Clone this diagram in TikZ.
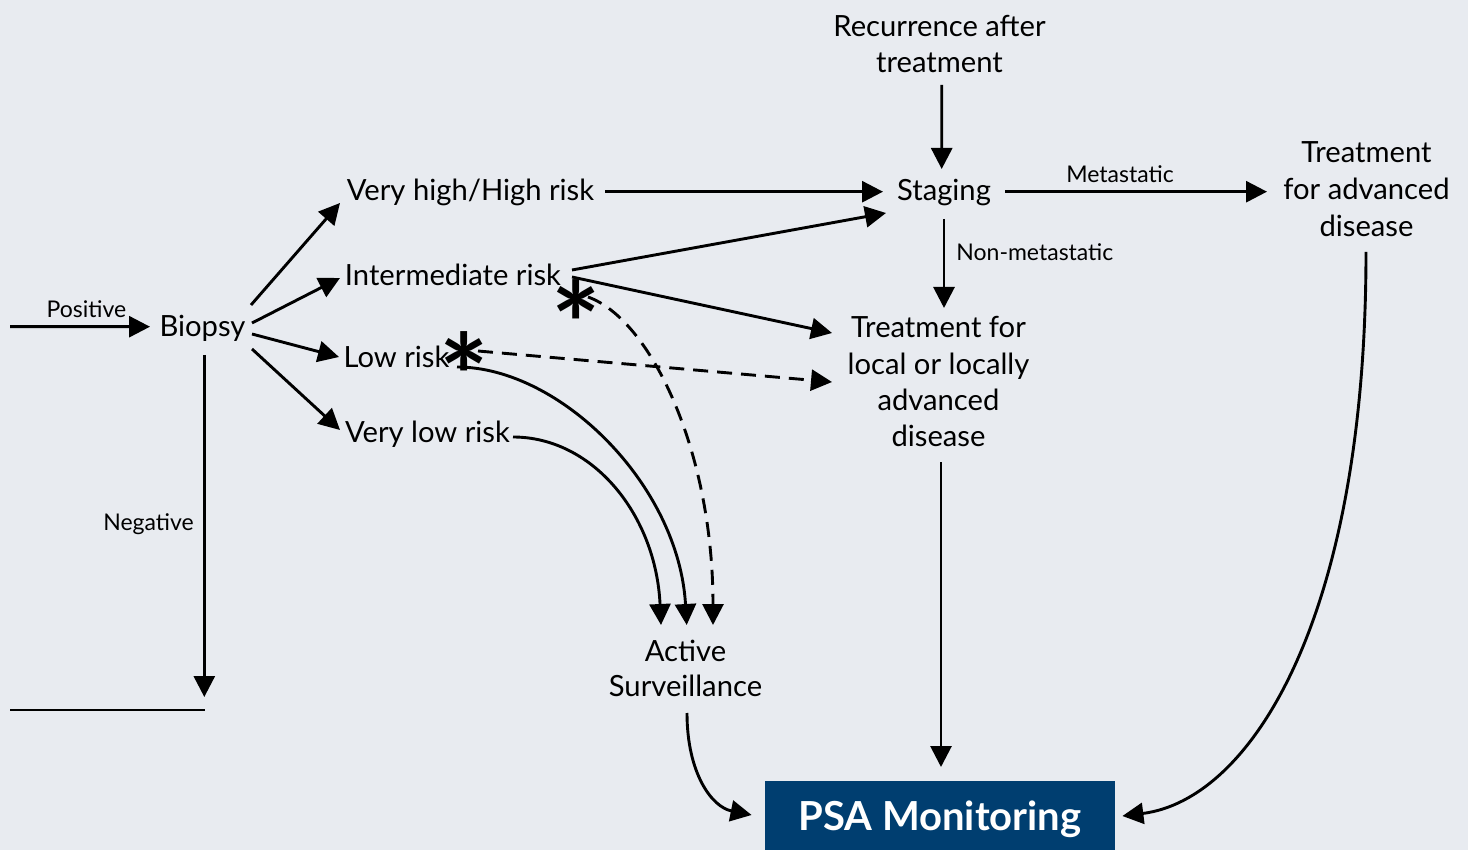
\documentclass[tikz,border=0pt]{standalone}
\usepackage{fontspec}
\setmainfont{Lato}
\usetikzlibrary{arrows.meta,calc}
\definecolor{bg}{HTML}{E8EBF0}
\definecolor{psablue}{HTML}{003E70}
\newcommand\mlstack[1]{\vtop{\halign{\hfil##\hfil\cr#1\crcr}}}
\newcommand\bigast{\makebox[13pt]{\raisebox{-34pt}[6pt][6pt]{*}}}
\tikzset{
  lbl/.style={font=\fontsize{14.6}{18}\selectfont, inner sep=0pt, anchor=base, text=black},
  sml/.style={font=\fontsize{11.5}{14}\selectfont, inner sep=0pt, anchor=base, text=black},
  conn/.style={line width=1.45pt, -{Triangle[length=10.5pt,width=10.5pt]}},
  dconn/.style={conn, dash pattern=on 7.5pt off 4.5pt},
  plain/.style={line width=1.45pt},
  astr/.style={font=\fontsize{58}{58}\selectfont\bfseries, inner sep=0pt, anchor=base},
}
\begin{document}
\begin{tikzpicture}[x=0.5pt,y=-0.5pt]
\fill[bg] (0,0) rectangle (1468,850);
\useasboundingbox (0,0) rectangle (1468,850);

% nodes
\node[lbl] (bio) at (202.5,336) {Biopsy};
\node[lbl] (vh) at (470.5,200.7) {Very high/High risk};
\node[lbl] (int) at (453,285.7) {Intermediate risk};
\node[lbl] (low) at (396.5,368) {Low risk};
\node[lbl] (vlow) at (427.5,442.7) {Very low risk};
\node[lbl] (rec) at (939.5,37) {\mlstack{Recurrence after\cr treatment}};
\node[lbl] (stg) at (944,200.7) {Staging};
\node[lbl, font=\fontsize{14.6}{18.5}\selectfont] (adv) at (1366.5,163) {\mlstack{Treatment\cr for advanced\cr disease}};
\node[lbl, font=\fontsize{14.6}{18.1}\selectfont] (loc) at (938.5,338) {\mlstack{Treatment for\cr local or locally\cr advanced\cr disease}};
\node[lbl, font=\fontsize{14.6}{17.2}\selectfont] (as) at (685.5,661.7) {\mlstack{Active\cr Surveillance}};
\node[fill=psablue, text=white, font=\fontsize{20}{24}\selectfont\bfseries, inner sep=0pt,
      minimum width=175pt, text height=24.85pt, text depth=9.65pt, anchor=base] (psa) at (940,830.7) {PSA Monitoring};

% edge labels
\node[sml] (lpos) at (86.5,317.7) {Positive};
\node[sml] (lneg) at (148.5,530) {Negative};
\node[sml] (lmet) at (1120,182.7) {Metastatic};
\node[sml, anchor=base west] (lnon) at (956,260.7) {Non-metastatic};

% asterisks
\node[astr] (ast1) at (576,300) {\bigast};
\node[astr] (ast2) at (464,351) {\bigast};

% free ends
\coordinate (start) at (10,326.7);
\coordinate (negend) at (204.3,697);
\coordinate (hl1) at (10,710);
\coordinate (hl2) at (205,710);

% connectors
\draw[conn] (start) -- ($(bio.base)+(-52.5,-9.3)$);
\draw[conn] ($(bio.base)+(48.5,-31)$) -- ($(vh.base)+(-130.5,2.3)$);
\draw[conn] ($(bio.base)+(49.5,-13)$) -- ($(int.base)+(-113,-7.7)$);
\draw[conn] ($(bio.base)+(49.5,-2)$) -- ($(low.base)+(-57.5,-11)$);
\draw[conn] ($(bio.base)+(49.5,13)$) -- ($(vlow.base)+(-87.5,-12.7)$);
\draw[conn] ($(bio.base)+(1.8,19)$) -- (negend);
\draw[plain] (hl1) -- (hl2);

\draw[conn] ($(vh.base)+(134.5,-9)$) -- ($(stg.base)+(-61,-9)$);
\draw[conn] ($(int.base)+(119,-15.7)$) -- ($(stg.base)+(-58,12.3)$);
\draw[conn] ($(int.base)+(119,-8.7)$) -- ($(loc.base)+(-106.5,-5)$);
\draw[dconn] ($(low.base)+(81.5,-17)$) -- ($(loc.base)+(-106.5,44)$);
\draw[dconn] ($(int.base)+(135,11.3)$) .. controls +(62,22) and +(0,-175) .. ($(as.base)+(27.5,-36.7)$);
\draw[conn] ($(low.base)+(60.5,-1)$) .. controls +(103,0) and +(-8,-140) .. ($(as.base)+(1.2,-36.7)$);
\draw[conn] ($(vlow.base)+(85.5,-5.7)$) .. controls +(80,0) and +(-5,-110) .. ($(as.base)+(-24.5,-36.7)$);

\draw[conn] ($(rec.base)+(2.2,48)$) -- ($(stg.base)+(-2.3,-31.7)$);
\draw[conn] ($(stg.base)+(61,-9)$) -- ($(adv.base)+(-99.5,28.7)$);
\draw[conn] ($(stg.base)+(0,18.3)$) -- ($(loc.base)+(5.5,-30)$);

\draw[conn] ($(as.base)+(1.5,51.3)$) .. controls +(0,60) and +(-40,-8) .. ($(psa.base west)+(-13,-15.7)$);
\draw[conn] ($(loc.base)+(2.5,124)$) -- ($(psa.base)+(1,-63.7)$);
\draw[conn] ($(adv.base)+(-0.5,89)$) .. controls +(0,368) and +(128,-16) .. ($(psa.base east)+(7,-14.7)$);
\end{tikzpicture}
\end{document}
